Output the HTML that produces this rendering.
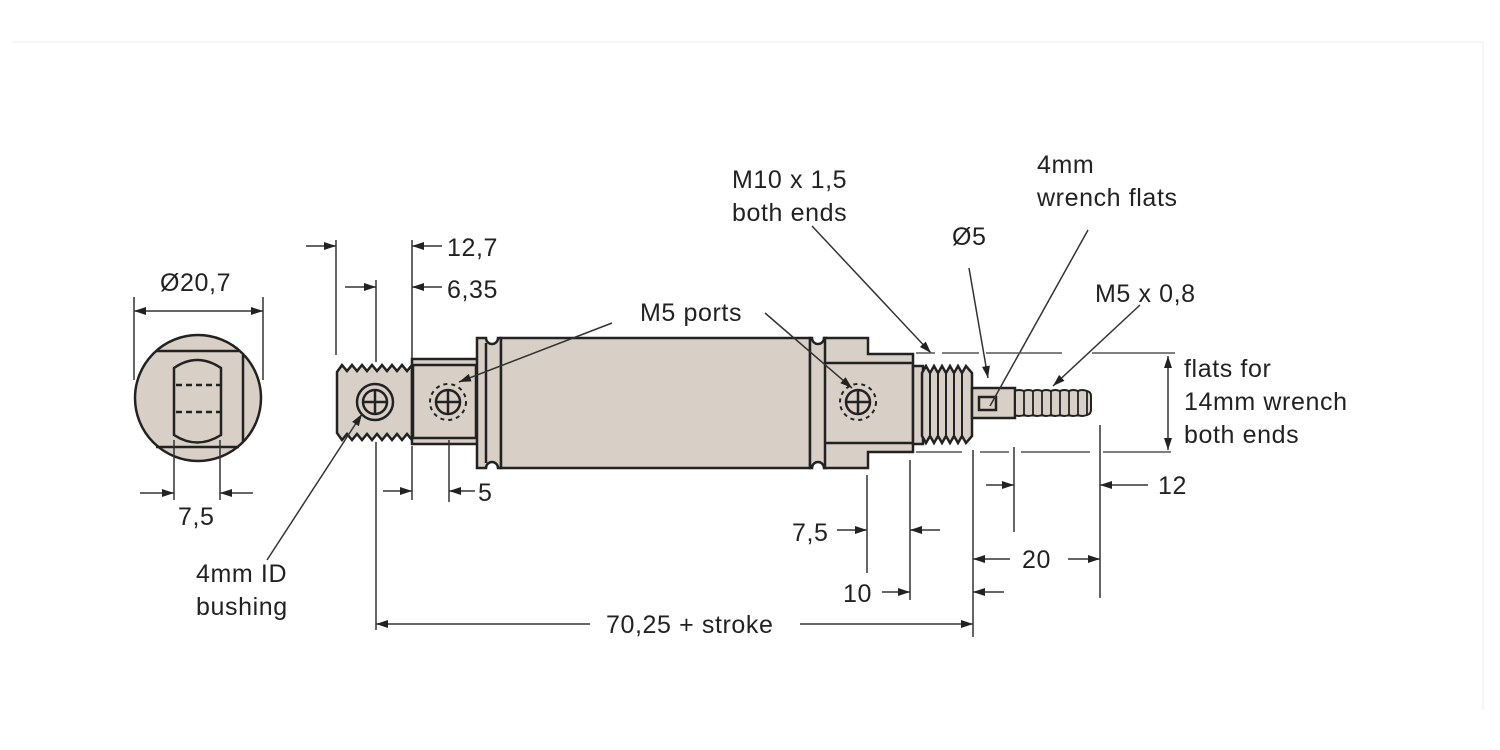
<!DOCTYPE html>
<html><head><meta charset="utf-8"><style>
html,body{margin:0;padding:0;background:#fff;}
svg{display:block;}
text{font-family:"Liberation Sans",sans-serif;font-size:25px;fill:#222;letter-spacing:0.6px;}
</style></head><body>
<svg width="1500" height="750" viewBox="0 0 1500 750" xmlns="http://www.w3.org/2000/svg">
<defs>
<marker id="a" viewBox="0 0 12 8" refX="12" refY="4" markerWidth="12" markerHeight="8" markerUnits="userSpaceOnUse" orient="auto"><path d="M0 0 L12 4 L0 8 z" fill="#222"/></marker>
</defs>
<line x1="12" y1="42" x2="1483" y2="42" stroke="#eee" stroke-width="1"/>
<line x1="1483" y1="42" x2="1483" y2="710" stroke="#eee" stroke-width="1"/>

<g fill="#d8cfc6" stroke="#222" stroke-width="2.5" stroke-linejoin="miter">
<circle cx="198" cy="398" r="63"/>
<path d="M156 351 H239 M156 447 H239 M243 355 V442" fill="none"/>
<path d="M174 368 Q197 352 221 368 V435 Q197 450 174 435 Z"/>
<path d="M176 385 H220 M176 412 H220" fill="none" stroke-dasharray="6 4"/>

<path d="M337 372 L342 365 L347 371 L352 365 L357 371 L362 365 L367 371 L372 365 L377 371 L382 365 L387 371 L392 365 L397 371 L402 365 L407 371 L412 365 V440 L407 434 L402 440 L397 434 L392 440 L387 434 L382 440 L377 434 L372 440 L367 434 L362 440 L357 434 L352 440 L347 434 L342 440 L337 433 Z"/>
<circle cx="375" cy="402" r="18"/>
<circle cx="375" cy="402" r="12"/>
<path d="M363 402 H387 M375 390 V414" fill="none"/>

<rect x="412" y="359" width="66" height="85"/>
<rect x="413" y="365" width="63" height="73"/>
<circle cx="448" cy="402" r="12"/>
<path d="M436 402 H460 M448 390 V414" fill="none"/>
<circle cx="448" cy="402" r="18" fill="none" stroke-width="2" stroke-dasharray="4 4"/>

<path d="M477 338 H486 A6 6 0 0 0 498 338 H501 V468 H498 A6 6 0 0 0 486 468 H477 Z"/>
<path d="M486 343 V463" fill="none"/>
<rect x="501" y="338" width="309" height="130"/>
<path d="M810 338 H812 A6 6 0 0 0 824 338 H826 V468 H824 A6 6 0 0 0 812 468 H810 Z"/>
<path d="M825 338 H868 V354 H913 V452 H868 V468 H825 Z"/>
<path d="M825 363 H912 M825 443 H912" fill="none"/>
<circle cx="858" cy="402" r="12"/>
<path d="M846 402 H870 M858 390 V414" fill="none"/>
<circle cx="858" cy="402" r="18" fill="none" stroke-width="2" stroke-dasharray="4 4"/>
<rect x="913" y="366" width="10" height="78"/>
<path d="M922 373 L926 366 L930 373 L934 366 L938 373 L942 366 L946 373 L950 366 L954 373 L958 366 L962 373 L966 366 L972 373 V436 L966 443 L962 436 L958 443 L954 436 L950 443 L946 436 L942 443 L938 436 L934 443 L930 436 L926 443 L922 436 Z"/>
<path d="M930 373 V436 M938 373 V436 M946 373 V436 M954 373 V436 M962 373 V436" fill="none" stroke-width="2"/>
<rect x="972" y="388" width="43" height="30"/>
<rect x="979" y="397" width="17" height="13"/>
<path d="M1015 391 Q1019 389 1024 391 Q1028 389 1033 391 Q1037 389 1042 391 Q1046 389 1051 391 Q1055 389 1060 391 Q1064 389 1069 391 Q1073 389 1078 391 Q1082 389 1087 391 Q1091 392 1091 396 V410 Q1091 414 1087 415 Q1082 417 1078 415 Q1073 417 1069 415 Q1064 417 1060 415 Q1055 417 1051 415 Q1046 417 1042 415 Q1037 417 1033 415 Q1028 417 1024 415 Q1019 417 1015 415 Z" stroke-width="2"/>
<path d="M1024 391 V415 M1033 391 V415 M1042 391 V415 M1051 391 V415 M1060 391 V415 M1069 391 V415 M1078 391 V415 M1087 391 V415" fill="none" stroke-width="1.8"/>
</g>

<g stroke="#333" stroke-width="1.5" fill="none">
<line x1="134" y1="297" x2="134" y2="380"/>
<line x1="263" y1="297" x2="263" y2="380"/>
<line x1="150" y1="311" x2="134" y2="311" marker-end="url(#a)"/>
<line x1="150" y1="311" x2="263" y2="311" marker-end="url(#a)"/>
<line x1="174" y1="440" x2="174" y2="500"/>
<line x1="220" y1="440" x2="220" y2="500"/>
<line x1="140" y1="493" x2="174" y2="493" marker-end="url(#a)"/>
<line x1="253" y1="493" x2="220" y2="493" marker-end="url(#a)"/>
<line x1="267" y1="560" x2="362" y2="414" marker-end="url(#a)"/>
<line x1="336" y1="240" x2="336" y2="355"/>
<line x1="306" y1="246" x2="336" y2="246" marker-end="url(#a)"/>
<line x1="376" y1="280" x2="376" y2="362"/>
<line x1="345" y1="287" x2="376" y2="287" marker-end="url(#a)"/>
<line x1="412" y1="240" x2="412" y2="358"/>
<line x1="442" y1="246" x2="412" y2="246" marker-end="url(#a)"/>
<line x1="442" y1="287" x2="412" y2="287" marker-end="url(#a)"/>
<line x1="376" y1="442" x2="376" y2="630"/>
<line x1="412" y1="446" x2="412" y2="500"/>
<line x1="449" y1="440" x2="449" y2="502"/>
<line x1="383" y1="491" x2="412" y2="491" marker-end="url(#a)"/>
<line x1="475" y1="491" x2="449" y2="491" marker-end="url(#a)"/>
<line x1="590" y1="624" x2="376" y2="624" marker-end="url(#a)"/>
<line x1="800" y1="624" x2="973" y2="624" marker-end="url(#a)"/>
<line x1="612" y1="323" x2="459" y2="382" marker-end="url(#a)"/>
<line x1="765" y1="313" x2="852" y2="388" marker-end="url(#a)"/>
<line x1="812" y1="226" x2="931" y2="353" marker-end="url(#a)"/>
<line x1="969" y1="268" x2="988" y2="378" marker-end="url(#a)"/>
<line x1="1088" y1="230" x2="990" y2="406"/>
<line x1="1140" y1="305" x2="1053" y2="386" marker-end="url(#a)"/>
<path d="M916 353 H935 M942 353 H979 M986 353 H1062 M1092 353 H1175" stroke="#555"/>
<path d="M916 452 H962 M980 452 H1009 M1021 452 H1090 M1103 452 H1171" stroke="#555"/>
<line x1="1168" y1="400" x2="1168" y2="356" marker-end="url(#a)"/>
<line x1="1168" y1="400" x2="1168" y2="450" marker-end="url(#a)"/>
<line x1="867" y1="475" x2="867" y2="573"/>
<line x1="910" y1="460" x2="910" y2="600"/>
<line x1="973" y1="450" x2="973" y2="637"/>
<line x1="1014" y1="447" x2="1014" y2="532"/>
<line x1="1100" y1="425" x2="1100" y2="598"/>
<line x1="837" y1="530" x2="867" y2="530" marker-end="url(#a)"/>
<line x1="940" y1="530" x2="910" y2="530" marker-end="url(#a)"/>
<line x1="882" y1="592" x2="910" y2="592" marker-end="url(#a)"/>
<line x1="1004" y1="592" x2="973" y2="592" marker-end="url(#a)"/>
<line x1="1010" y1="559" x2="973" y2="559" marker-end="url(#a)"/>
<line x1="1068" y1="559" x2="1100" y2="559" marker-end="url(#a)"/>
<line x1="986" y1="485" x2="1014" y2="485" marker-end="url(#a)"/>
<line x1="1148" y1="485" x2="1100" y2="485" marker-end="url(#a)"/>
</g>

<g>
<text x="160" y="291">Ø20,7</text>
<text x="178" y="525">7,5</text>
<text x="196" y="582">4mm ID</text>
<text x="196" y="615">bushing</text>
<text x="447" y="256">12,7</text>
<text x="447" y="298">6,35</text>
<text x="478" y="501">5</text>
<text x="640" y="321">M5 ports</text>
<text x="606" y="633">70,25 + stroke</text>
<text x="732" y="188">M10 x 1,5</text>
<text x="732" y="221">both ends</text>
<text x="952" y="245">Ø5</text>
<text x="1037" y="173">4mm</text>
<text x="1037" y="206">wrench flats</text>
<text x="1095" y="302">M5 x 0,8</text>
<text x="1184" y="377">flats for</text>
<text x="1184" y="410">14mm wrench</text>
<text x="1184" y="443">both ends</text>
<text x="1158" y="494">12</text>
<text x="792" y="541">7,5</text>
<text x="1022" y="568">20</text>
<text x="843" y="602">10</text>
</g>
</svg>
</body></html>
